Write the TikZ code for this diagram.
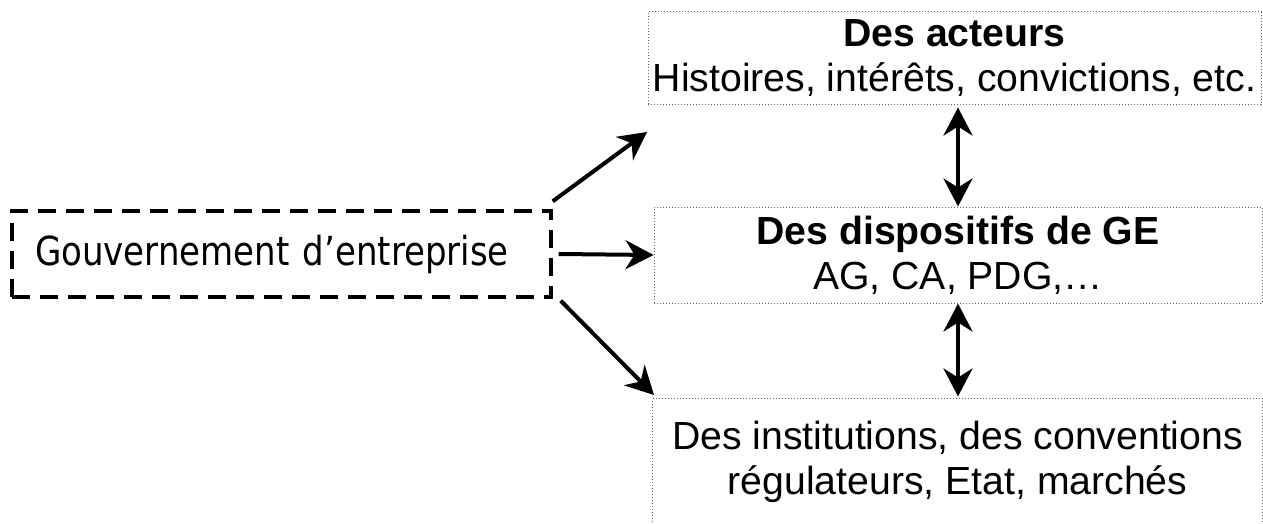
\documentclass[tikz,border=0pt]{standalone}
\usepackage{fontspec}
\setmainfont{Liberation Sans}
\newfontfamily\govfont[FakeStretch=0.85]{DejaVu Sans}
\usetikzlibrary{arrows.meta}

\tikzset{
  cadre/.style={draw=black!60, densely dotted, line width=0.5pt, inner sep=0pt, align=center,
    font=\fontsize{19.6}{22.5}\selectfont},
  fleche/.style={line width=2pt, -{Stealth[length=14pt,width=14.5pt,inset=4.5pt]}},
  flechedeux/.style={line width=2pt, {Stealth[length=14pt,width=14.5pt,inset=4.5pt]}-{Stealth[length=14pt,width=14.5pt,inset=4.5pt]}}
}

\begin{document}
\begin{tikzpicture}[x=0.5pt, y=-0.5pt]
        \useasboundingbox (0,0) rectangle (1263,524);

        % les trois cadres de droite
        \node[cadre, minimum width=306.5pt, minimum height=46.5pt] (acteurs) at (954.5,58.5)
            {\textbf{Des acteurs}\\Histoires, intérêts, convictions, etc.};
        \node[cadre, minimum width=304pt, minimum height=48pt] (dispositifs) at (958,255)
            {\textbf{Des dispositifs de GE}\\AG, CA, PDG,…};
        \node[cadre, draw=none, minimum width=304.5pt, minimum height=62.5pt] (institutions) at (957.5,461.5)
            {Des institutions, des conventions\\régulateurs, Etat, marchés};
        \draw[black!60, densely dotted, line width=0.5pt] (institutions.south west) -- (institutions.north west)
            -- (institutions.north east) -- (institutions.south east);

        % le cadre de gauche
        \node[draw, line width=1.7pt, dash pattern=on 9pt off 5pt, minimum width=269.5pt, minimum height=43pt,
            text width=246.5pt, align=left, inner sep=0pt, font=\govfont\fontsize{20}{24}\selectfont]
            (gouv) at (281.5,254) {Gouvernement d’entreprise};

        \coordinate (haut) at (647,132);
        \coordinate (bas) at (654,395);

        \draw[fleche] ([shift={(0,-8)}]gouv.north east) -- (haut);
        \draw[fleche] ([xshift=3pt]gouv.east) -- (dispositifs.west);
        \draw[fleche] ([shift={(8,2)}]gouv.south east) -- (bas);

        \draw[flechedeux] ([yshift=-1pt]dispositifs.north |- acteurs.south) -- (dispositifs.north);
        \draw[flechedeux] (dispositifs.south) -- ([yshift=1pt]dispositifs.south |- institutions.north);
\end{tikzpicture}
\end{document}
